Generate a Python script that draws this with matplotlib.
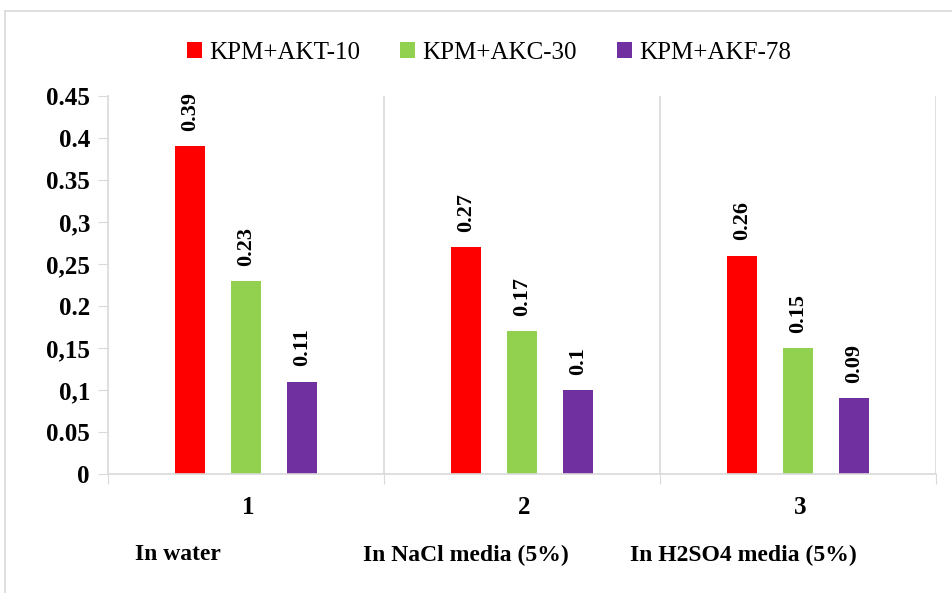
import numpy as np
import matplotlib.pyplot as plt
from matplotlib.lines import Line2D
from matplotlib.transforms import blended_transform_factory

groups = ['1', '2', '3']
media = ['In water', 'In NaCl media (5%)', 'In H2SO4 media (5%)']
series = ['KPM+AKT-10', 'KPM+AKC-30', 'KPM+AKF-78']
values = [
    [0.39, 0.27, 0.26],
    [0.23, 0.17, 0.15],
    [0.11, 0.10, 0.09],
]
yticks = [0, 0.05, 0.1, 0.15, 0.2, 0.25, 0.3, 0.35, 0.4, 0.45]
ytick_labels = ['0', '0.05', '0,1', '0,15', '0.2', '0,25', '0,3', '0.35', '0.4', '0.45']
colors = ['#FF0000', '#92D050', '#7030A0']

serif = 'Liberation Serif'
W, H = 953, 593

fig = plt.figure(figsize=(W / 100, H / 100), dpi=100)
ax = fig.add_axes([108 / W, 1 - 474 / H, 828 / W, 378 / H])

x = np.arange(len(groups))
width = 0.109
step = 0.203
for i, (name, vals, col) in enumerate(zip(series, values, colors)):
    pos = x + (i - 1) * step
    ax.bar(pos, vals, width, color=col, label=name)
    for p, v in zip(pos, vals):
        ax.annotate(f'{v:g}', (p, v), xytext=(0, 11), textcoords='offset points',
                    rotation=90, ha='center', va='bottom', fontsize=16,
                    fontweight='bold', family=serif)

ax.set_xlim(-0.5, len(groups) - 0.5)
ax.set_ylim(0, 0.45)
ax.set_yticks(yticks)
ax.set_yticklabels(ytick_labels, family=serif, fontweight='bold', fontsize=18)
ax.tick_params(axis='y', length=7, color='#d9d9d9', pad=6)

# group boundaries: vertical separators and outward ticks
bounds = np.arange(len(groups) + 1) - 0.5
ax.set_xticks(bounds)
ax.set_xticklabels([])
ax.tick_params(axis='x', length=7, color='#d9d9d9')
for b in bounds[1:]:
    ax.axvline(b, color='#d9d9d9', lw=1.2, zorder=0)

for s in ['top', 'right']:
    ax.spines[s].set_visible(False)
for s in ['left', 'bottom']:
    ax.spines[s].set_color('#d9d9d9')
    ax.spines[s].set_linewidth(1.2)

trans = blended_transform_factory(ax.transData, fig.transFigure)
for xi, g in zip(x, groups):
    ax.text(xi + 0.008, 1 - 507 / H, g, transform=trans, ha='center', va='center',
            family=serif, fontweight='bold', fontsize=18)

media_left = [135, 363, 630]
for px, m in zip(media_left, media):
    fig.text(px / W, 1 - 555 / H, m, ha='left', va='center',
             family=serif, fontweight='bold', fontsize=17)

ax.legend(loc='center', bbox_to_anchor=(489 / W, 1 - 53 / H), bbox_transform=fig.transFigure,
          ncol=3, frameon=False, prop={'family': serif, 'size': 18},
          handlelength=0.6, handleheight=0.6, columnspacing=1.6, handletextpad=0.3)

# outer chart border
fig.add_artist(Line2D([5 / W, 5 / W], [0, 1 - 11 / H], color='#d9d9d9', lw=1.2))
fig.add_artist(Line2D([5 / W, 1], [1 - 11 / H, 1 - 11 / H], color='#d9d9d9', lw=1.2))

fig.savefig('out.png', dpi=100)
